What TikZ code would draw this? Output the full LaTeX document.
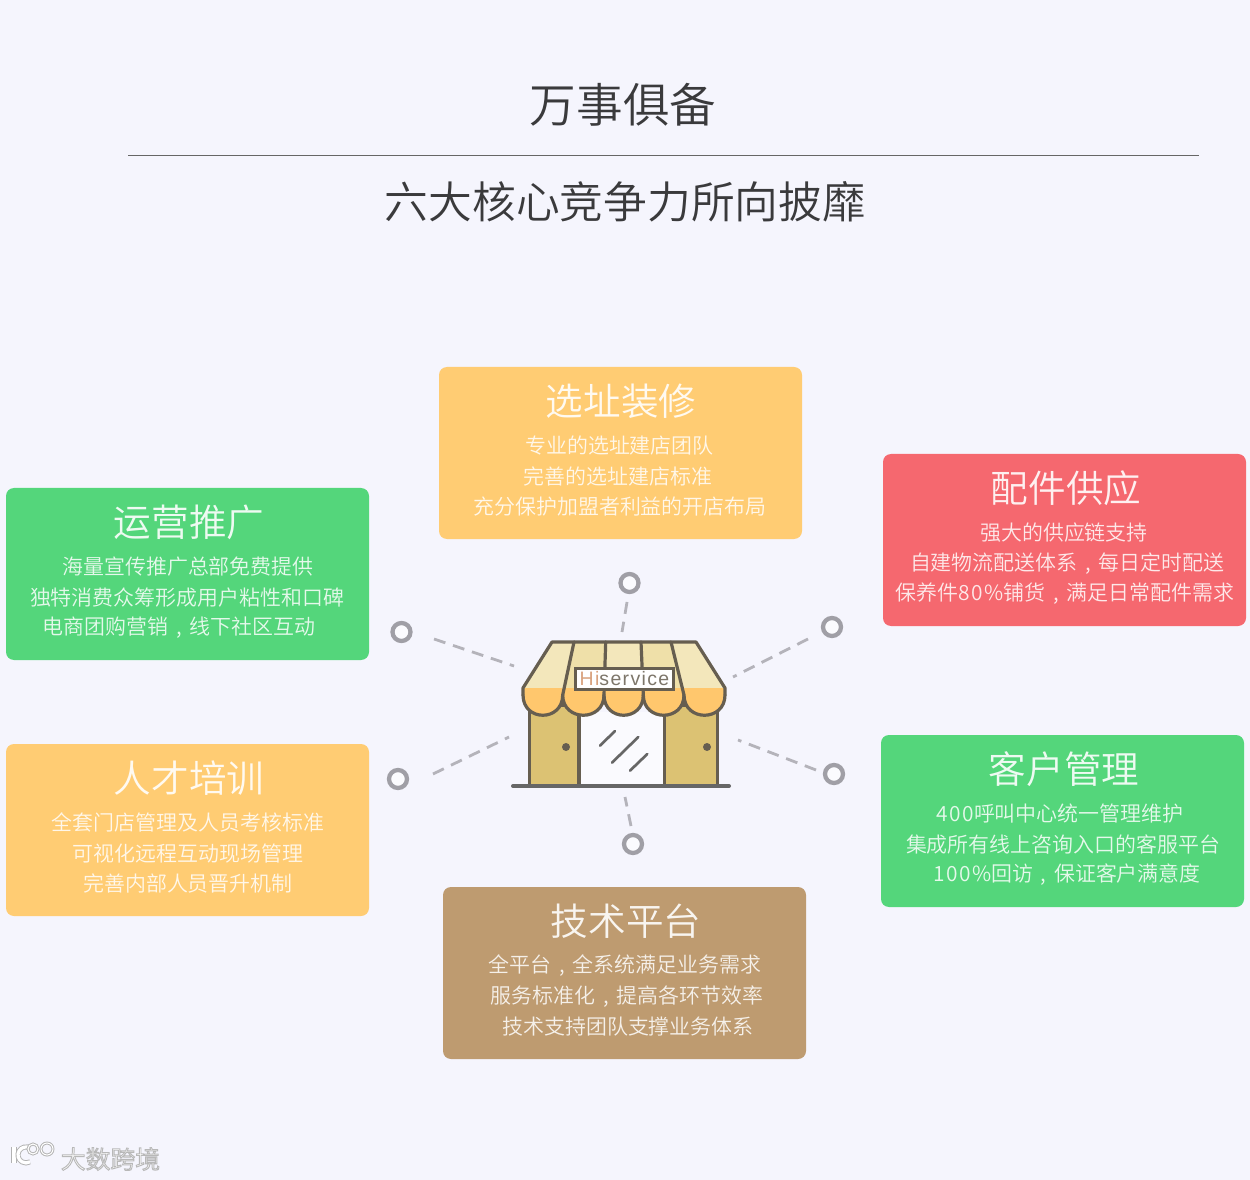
\documentclass[tikz,border=0pt]{standalone}
\usepackage{fontspec}
\setmainfont{Noto Sans CJK SC DemiLight}
\newfontfamily\hifont[LetterSpace=7]{Liberation Sans}
\newfontfamily\numfont[LetterSpace=7]{Noto Sans CJK SC DemiLight}
\newcommand{\numtxt}[1]{{\numfont #1}}
\newcommand{\midcomma}{\makebox[1em][c]{,}}
\definecolor{bgc}{HTML}{F5F5FD}
\definecolor{greenc}{HTML}{54D67B}
\definecolor{yellowc}{HTML}{FFCC73}
\definecolor{redc}{HTML}{F5686F}
\definecolor{brownc}{HTML}{BE9B70}
\definecolor{ringc}{HTML}{A09FA6}
\definecolor{dashc}{HTML}{B4B3BA}
\definecolor{inkc}{HTML}{665E50}
\definecolor{roofa}{HTML}{F3E7BB}
\definecolor{roofb}{HTML}{EFE0A9}
\definecolor{scallopc}{HTML}{FFC76D}
\definecolor{wallc}{HTML}{DCC273}
\definecolor{titlec}{HTML}{3A3A3C}
\tikzset{
  x=0.75pt,y=-0.75pt,
  card/.style={draw=none,rounded corners=6pt,minimum width=272.25pt,minimum height=129pt,inner sep=0pt},
  cardtitle/.style={text=white,opacity=.9,font=\fontsize{28.2pt}{30pt}\selectfont,inner sep=0pt},
  cardline/.style={text=white,opacity=.85,font=\fontsize{15.7pt}{17pt}\selectfont,inner sep=0pt},
  ring/.style={circle,draw=ringc,line width=3.2pt,minimum size=13.5pt,inner sep=0pt,fill=bgc!40!white},
  spoke/.style={draw=dashc,line width=2.1pt,dash pattern=on 9pt off 6pt},
  shopline/.style={draw=inkc,line width=2.4pt,line join=round,line cap=round},
  logostroke/.style={draw=black!30,double=white,line width=.7pt},
}
\begin{document}
\begin{tikzpicture}
\useasboundingbox[fill=bgc] (0,0) rectangle (1250,1180);
% heading
\node[text=titlec,inner sep=0pt,font=\fontsize{35pt}{37pt}\selectfont] (head) at (623,105) {万事俱备};
\coordinate (ruleL) at (128,155);
\coordinate (ruleR) at (1199,155);
\draw[draw=black!60,line width=.55pt] (ruleL) -- (ruleR);
\node[text=titlec,inner sep=0pt,font=\fontsize{32.8pt}{35pt}\selectfont] (sub) at (625.5,202) {六大核心竞争力所向披靡};
% cards
\node[card,fill=yellowc] (c1) at (620.5,453) {};
\node[cardtitle] (c1t) at (621,401) {选址装修};
\node[cardline] (c1a) at (619.5,445.5) {专业的选址建店团队};
\node[cardline] (c1b) at (618,476.5) {完善的选址建店标准};
\node[cardline] (c1c) at (620,506.5) {充分保护加盟者利益的开店布局};
\node[card,fill=redc] (c2) at (1064.5,540) {};
\node[cardtitle] (c2t) at (1066,488) {配件供应};
\node[cardline] (c2a) at (1064,532.5) {强大的供应链支持};
\node[cardline] (c2b) at (1067,563.5) {自建物流配送体系\midcomma 每日定时配送};
\node[cardline] (c2c) at (1065,593.5) {保养件\numtxt{80\%}铺货\midcomma 满足日常配件需求};
\node[card,fill=greenc] (c3) at (187.5,574) {};
\node[cardtitle] (c3t) at (189,522) {运营推广};
\node[cardline] (c3a) at (188,566.5) {海量宣传推广总部免费提供};
\node[cardline] (c3b) at (187,597.5) {独特消费众筹形成用户粘性和口碑};
\node[cardline] (c3c) at (179,627.5) {电商团购营销\midcomma 线下社区互动};
\node[card,fill=yellowc] (c4) at (187.5,830) {};
\node[cardtitle] (c4t) at (189,778) {人才培训};
\node[cardline] (c4a) at (188,822.5) {全套门店管理及人员考核标准};
\node[cardline] (c4b) at (188,853.5) {可视化远程互动现场管理};
\node[cardline] (c4c) at (188,883.5) {完善内部人员晋升机制};
\node[card,fill=greenc] (c5) at (1062.5,821) {};
\node[cardtitle] (c5t) at (1064,769) {客户管理};
\node[cardline] (c5a) at (1060,813.5) {\numtxt{400}呼叫中心统一管理维护};
\node[cardline] (c5b) at (1063,844.5) {集成所有线上咨询入口的客服平台};
\node[cardline] (c5c) at (1067,874.5) {\numtxt{100\%}回访\midcomma 保证客户满意度};
\node[card,fill=brownc] (c6) at (624.5,973) {};
\node[cardtitle] (c6t) at (626,921) {技术平台};
\node[cardline] (c6a) at (625,965.5) {全平台\midcomma 全系统满足业务需求};
\node[cardline] (c6b) at (627,996.5) {服务标准化\midcomma 提高各环节效率};
\node[cardline] (c6c) at (628,1026.5) {技术支持团队支撑业务体系};
% rings
\node[ring] (r1) at (629.5,583) {};
\node[ring] (r2) at (832,627) {};
\node[ring] (r3) at (401.5,632) {};
\node[ring] (r4) at (398,779) {};
\node[ring] (r5) at (834,774) {};
\node[ring] (r6) at (633,844) {};
% spokes
\coordinate (s1a) at (627,602); \coordinate (s1b) at (622,632);
\coordinate (s2a) at (808,639); \coordinate (s2b) at (733,677);
\coordinate (s3a) at (434,639); \coordinate (s3b) at (514,666);
\coordinate (s4a) at (433,774); \coordinate (s4b) at (509,737);
\coordinate (s5a) at (816,770); \coordinate (s5b) at (738,740);
\coordinate (s6a) at (631,826); \coordinate (s6b) at (625,797);
\foreach \p in {s1,s2,s3,s4,s5,s6}{\draw[spoke] (\p a) -- (\p b);}
% shop: columns and door
\fill[white!55!bgc] (579,712) rectangle (664.3,786);
\draw[shopline,fill=wallc] (529.3,705) rectangle (579,786);
\draw[shopline,fill=wallc] (664.3,705) rectangle (717.7,786);
\fill[inkc] (566,747) circle[radius=4];
\fill[inkc] (707,747) circle[radius=4];
\draw[black!60,line width=2pt,line cap=round] (600,745.7) -- (615,731);
\draw[black!60,line width=2pt,line cap=round] (612,762.7) -- (638.3,737);
\draw[black!60,line width=2pt,line cap=round] (630,770.7) -- (647.3,754);
\draw[black!60,line width=3pt,line cap=round] (513,786) -- (729,786);
% awning panels
\fill[roofa] (552,642) -- (574,642) -- (562.7,688) -- (523,688) -- cycle;
\fill[roofb] (574,642) -- (605.7,642) -- (604,688) -- (562.7,688) -- cycle;
\fill[roofa] (605.7,642) -- (641,642) -- (643.3,688) -- (604,688) -- cycle;
\fill[roofb] (641,642) -- (671,642) -- (684,688) -- (643.3,688) -- cycle;
\fill[roofa] (671,642) -- (696,642) -- (725,688) -- (684,688) -- cycle;
% scallops
\foreach \xa/\xb in {523/562.7,562.7/604,604/643.3,643.3/684,684/725}{
  \fill[scallopc] (\xa,688) -- (\xa,695) .. controls (\xa,722) and (\xb,722) .. (\xb,695) -- (\xb,688) -- cycle;
  \draw[shopline] (\xa,695) .. controls (\xa,722) and (\xb,722) .. (\xb,695);
}
% awning lines
\draw[shopline] (523,695) -- (523,688) -- (552,642) -- (696,642) -- (725,688) -- (725,695);
\draw[shopline] (574,642) -- (562.7,695);
\draw[shopline] (605.7,642) -- (604,695);
\draw[shopline] (641,642) -- (643.3,695);
\draw[shopline] (671,642) -- (684,695);
% sign
\node[draw=inkc,line width=2.4pt,fill=white,minimum width=73pt,minimum height=15.5pt,inner sep=0pt,font=\hifont\fontsize{14.6pt}{15pt}\selectfont,text=inkc!85!white] (sign) at (624.5,679) {\textcolor[HTML]{D9A27E}{Hi}service};
% watermark
\node[text=white,inner sep=0pt,font=\fontsize{18.6pt}{20pt}\selectfont] (mark) at (110.5,1159) {\special{pdf:code q 2 Tr 0.7 w 0.72 G}大数跨境\special{pdf:code Q}};
\draw[logostroke,double distance=2.6pt] (14,1147) -- (14,1163);
\draw[logostroke,double distance=2.4pt] (30,1148) arc[start angle=-60,end angle=-300,radius=8];
\draw[logostroke,double distance=.8pt] (33,1149) circle[radius=5];
\draw[logostroke,double distance=.8pt] (47,1149) circle[radius=6];
\end{tikzpicture}
\end{document}
